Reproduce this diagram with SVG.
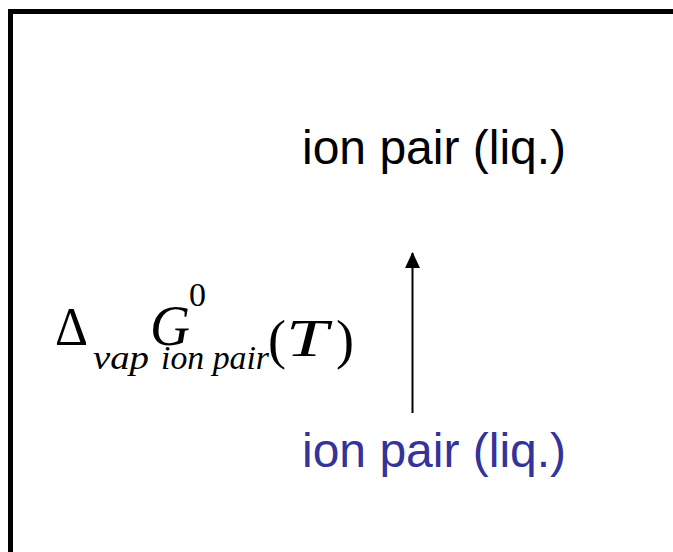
<svg xmlns="http://www.w3.org/2000/svg" width="673" height="552" viewBox="0 0 673 552">
<style>
.lbl{font-family:"Liberation Sans",Arial,sans-serif;font-size:48px}
.m{font-family:"Liberation Serif","Times New Roman",serif}
.it{font-style:italic}
</style>
<defs>
<marker id="ah" markerWidth="16" markerHeight="16" viewBox="0 0 16 16" refX="15" refY="8" orient="auto" markerUnits="userSpaceOnUse">
<path d="M0 0.5 L16 8 L0 15.5 Z" fill="#000"/>
</marker>
</defs>
<rect x="10.5" y="11.5" width="700" height="600" fill="#fff" stroke="#000" stroke-width="5"/>
<g id="top-node"><text class="lbl" x="302" y="164" fill="#000">ion pair (liq.)</text></g>
<g id="bottom-node"><text class="lbl" x="302" y="467" fill="#333399">ion pair (liq.)</text></g>
<g id="connectors">
<line x1="412.5" y1="413" x2="412.5" y2="253" stroke="#000" stroke-width="2" marker-end="url(#ah)"/>
</g>
<g id="formula" class="m">
<text x="55" y="345" font-size="54" textLength="33" lengthAdjust="spacingAndGlyphs">Δ</text>
<text x="93" y="369" font-size="34" class="it" textLength="56" lengthAdjust="spacingAndGlyphs">vap</text>
<text x="150" y="345" font-size="58" class="it" textLength="40" lengthAdjust="spacingAndGlyphs">G</text>
<text x="189" y="306" font-size="34">0</text>
<text x="161" y="369" font-size="34" class="it" textLength="108" lengthAdjust="spacingAndGlyphs">ion pair</text>
<text x="268" y="358" font-size="54">(</text>
<text x="286" y="356" font-size="52" class="it" textLength="42" lengthAdjust="spacingAndGlyphs">T</text>
<text x="336" y="358" font-size="54">)</text>
</g>
</svg>
